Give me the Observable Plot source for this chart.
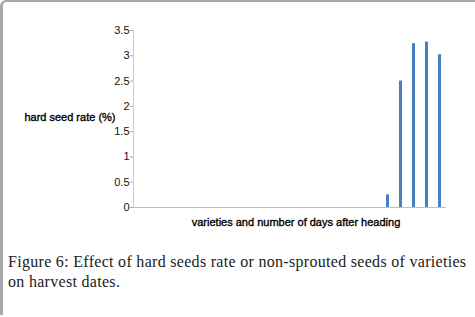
<!DOCTYPE html>
<html>
<head>
<meta charset="utf-8">
<script src="https://cdn.jsdelivr.net/npm/d3@7"></script>
<script src="https://cdn.jsdelivr.net/npm/@observablehq/plot@0.6"></script>
<style>
  html, body { margin: 0; padding: 0; background: #fff; }
  #frame {
    position: relative; width: 472px; height: 313px;
    border-top: 2px solid #a8a8a8; border-left: 3px solid #a8a8a8;
    border-top-left-radius: 6px; overflow: hidden;
  }
  #chart { position: absolute; left: -3px; top: -2px; width: 475px; }
  #chart svg { max-width: none; }
  #caption {
    position: absolute; left: 5px; top: 250px; width: 470px; white-space: nowrap;
    font-family: "Liberation Serif", "DejaVu Serif", serif;
    font-size: 16px; letter-spacing: 0.3px; line-height: 20px; color: #222;
  }
</style>
</head>
<body>
<div id="frame">
  <div id="chart"></div>
  <div id="caption">Figure 6: Effect of hard seeds rate or non-sprouted seeds of varieties<br>on harvest dates.</div>
</div>
<script>
// 24 categories (varieties × days after heading); labels are not shown in the original
const categories = d3.range(1, 25).map(i => "c" + i);
const hardSeedRate = [0,0,0,0,0,0,0,0,0,0,0,0,0,0,0,0,0,0,0,0.25,2.5,3.24,3.27,3.02];
const yTicks = [0, 0.5, 1, 1.5, 2, 2.5, 3, 3.5];
const yTickLabels = ["0", "0.5", "1", "1.5", "2", "2.5", "3", "3.5"];
const yLabel = "hard seed rate (%)";
const xLabel = "varieties and number of days after heading";

const data = categories.map((c, i) => ({cat: c, value: hardSeedRate[i]}));

const plot = Plot.plot({
  width: 475,
  height: 242,
  marginLeft: 133,
  marginRight: 29,
  marginTop: 30,
  marginBottom: 35,
  style: {fontFamily: "Liberation Sans, Arial, sans-serif", fontSize: "11px", color: "#111", background: "transparent"},
  x: {domain: categories, paddingInner: 0.78, paddingOuter: 0.39, axis: null},
  y: {domain: [0, 3.5], ticks: yTicks, tickFormat: (d, i) => yTickLabels[i], label: null},
  marks: [
    Plot.frame({anchor: "left", stroke: "#cccccc", strokeWidth: 1}),
    Plot.barY(data, {x: "cat", y: "value", fill: "#4a7fbf"}),
    Plot.ruleY([0], {stroke: "#bdbdbd", strokeWidth: 1}),
    Plot.axisY({ticks: yTicks, tickFormat: (d, i) => yTickLabels[i], tickSize: 3, tickPadding: 1, stroke: "#aaa", label: null}),
    Plot.text([yLabel], {frameAnchor: "left", dx: -18, dy: -2, textAnchor: "end", fontSize: 11, fill: "#000", stroke: "#000", strokeWidth: 0.35}),
    Plot.text([xLabel], {frameAnchor: "bottom", dx: 6, dy: 18, fontSize: 11, fill: "#000", stroke: "#000", strokeWidth: 0.35})
  ]
});
document.getElementById("chart").appendChild(plot);
</script>
</body>
</html>
